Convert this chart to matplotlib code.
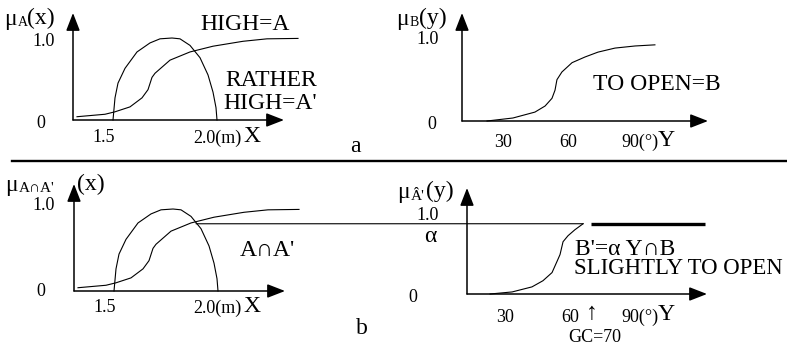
import matplotlib
matplotlib.use("Agg")
import matplotlib.pyplot as plt
import matplotlib.transforms as mtransforms
from matplotlib.lines import Line2D
from matplotlib.patches import ConnectionPatch

# Output size in pixels
W_PX = 787
H_PX = 347
DPI = 100

plt.rcParams["font.family"] = ["Liberation Serif", "DejaVu Serif"]

BIG = 17
SMALL = 13
SUB = 10

# --- data ---
# body height (m) and membership of HIGH=A
high_x = [1.365, 1.505, 1.555, 1.63, 1.69, 1.72, 1.74, 1.755, 1.83, 1.93, 2.045, 2.195, 2.315, 2.47]
high_mu = [0.04, 0.07, 0.10, 0.16, 0.27, 0.37, 0.52, 0.57, 0.73, 0.83, 0.90, 0.96, 0.99, 0.995]

# RATHER HIGH=A'
rather_x = [1.545, 1.555, 1.57, 1.605, 1.665, 1.73, 1.78, 1.84, 1.88, 1.93, 1.98, 2.02, 2.045, 2.06, 2.065]
rather_mu = [0.0, 0.27, 0.45, 0.63, 0.83, 0.94, 0.99, 1.0, 0.99, 0.91, 0.76, 0.55, 0.34, 0.15, 0.0]

# angle (deg) and membership of TO OPEN=B
open_y = [22.6, 34.6, 44.8, 49.5, 52.7, 54.1, 55.0, 57.3, 62.0, 68.0, 74.0, 81.9, 91.2, 100.4]
open_mu = [0.0, 0.037, 0.11, 0.185, 0.28, 0.38, 0.51, 0.605, 0.72, 0.79, 0.85, 0.90, 0.926, 0.94]

# SLIGHTLY TO OPEN = B' (clipped at alpha)
slight_y = [23.1, 33.3, 42.5, 47.6, 51.8, 54.1, 55.5, 56.9, 59.2, 62.4, 66.2]
slight_mu = [0.0, 0.024, 0.083, 0.155, 0.25, 0.38, 0.46, 0.61, 0.68, 0.75, 0.82]

alpha = 0.82
alpha_x = 1.955
gc = 70
gc_end = 122.7

x_ticks = [1.5]
y_ticks = [30, 60]


fig = plt.figure(figsize=(W_PX / DPI, H_PX / DPI), dpi=DPI)


def px_axes(left, right, bottom, top, xlim, ylim):
    """Axes placed by pixel box (y measured from the top)."""
    ax = fig.add_axes([left / W_PX, 1 - bottom / H_PX,
                       (right - left) / W_PX, (bottom - top) / H_PX])
    ax.set_xlim(*xlim)
    ax.set_ylim(*ylim)
    ax.axis("off")
    # arrowed axes
    style = "-|>,head_length=0.9,head_width=0.35"
    for tip in [(1, 0), (0, 1)]:
        ax.annotate("", xy=tip, xytext=(0, 0), xycoords="axes fraction",
                    arrowprops=dict(arrowstyle=style, mutation_scale=12, lw=1.1,
                                    color="black", shrinkA=0, shrinkB=0),
                    annotation_clip=False)
    return ax


def ftext(x, y, s, size, ha="left", va="center"):
    fig.text(x / W_PX, 1 - y / H_PX, s, fontsize=size, ha=ha, va=va)


def tick_labels(ax, values, y, size=SMALL):
    trans = mtransforms.blended_transform_factory(ax.transData, fig.transFigure)
    for v in values:
        ax.text(v, 1 - y / H_PX, str(v), transform=trans, fontsize=size,
                ha="center", va="center")


curve = dict(color="black", lw=0.8, clip_on=False)

# --- a: left ---
ax_al = px_axes(73, 284, 120, 13, (1.345, 2.40), (0, 1.305))
ax_al.plot(high_x, high_mu, **curve)
ax_al.plot(rather_x, rather_mu, **curve)
tick_labels(ax_al, x_ticks, 138)

# --- a: right ---
ax_ar = px_axes(462, 708, 121, 13, (11, 125), (0, 1.333))
ax_ar.plot(open_y, open_mu, **curve)
tick_labels(ax_ar, y_ticks, 142)

# --- b: left ---
ax_bl = px_axes(74, 285, 291, 184, (1.345, 2.40), (0, 1.305))
ax_bl.plot(high_x, high_mu, **curve)
ax_bl.plot(rather_x, rather_mu, **curve)
tick_labels(ax_bl, x_ticks, 308)

# --- b: right ---
ax_br = px_axes(467, 707, 294, 188, (12.4, 123.6), (0, 1.237))
ax_br.plot(slight_y, slight_mu, **curve)
ax_br.plot([gc, gc_end], [alpha, alpha], color="black", lw=2.4,
           solid_capstyle="butt", clip_on=False)
tick_labels(ax_br, y_ticks, 317)

# alpha level carried across from the intersection
con = ConnectionPatch(xyA=(alpha_x, alpha), coordsA=ax_bl.transData,
                      xyB=(slight_y[-1], alpha), coordsB=ax_br.transData,
                      color="black", lw=0.8)
fig.add_artist(con)

# separator
fig.add_artist(Line2D([12 / W_PX, 1.0], [1 - 161 / H_PX] * 2,
                      color="black", lw=1.7))

# --- texts: panel a ---
ftext(4, 19, "\u03bc", BIG)
ftext(18, 23, "A", SUB)
ftext(27, 18, "(x)", BIG)
ftext(44, 41, "1.0", SMALL, ha="center")
ftext(41, 123, "0", SMALL, ha="center")
ftext(193, 138, "2.0(m)", SMALL)
ftext(243, 136, "X", BIG)
ftext(200, 24, "HIGH=A", BIG)
ftext(225, 81, "RATHER", BIG)
ftext(223, 104, "HIGH=A'", BIG)
ftext(355, 146, "a", BIG, ha="center")

ftext(396, 19, "\u03bc", BIG)
ftext(410, 23, "B", SUB)
ftext(419, 18, "(y)", BIG)
ftext(428, 40, "1.0", SMALL, ha="center")
ftext(432, 124, "0", SMALL, ha="center")
ftext(621, 142, "90(\u00b0)", SMALL)
ftext(658, 140, "Y", BIG)
ftext(593, 85, "TO OPEN=B", BIG)

# --- texts: panel b ---
ftext(5, 185, "\u03bc", BIG)
ftext(19, 189, "A\u2229A'", 11)
ftext(77, 184, "(x)", BIG)
ftext(44, 206, "1.0", SMALL, ha="center")
ftext(41, 292, "0", SMALL, ha="center")
ftext(193, 308, "2.0(m)", SMALL)
ftext(243, 306, "X", BIG)
ftext(240, 250, "A\u2229A'", BIG)
ftext(362, 328, "b", BIG, ha="center")

ftext(397, 192, "\u03bc", BIG)
ftext(411, 196, "\u00c2'", 11)
ftext(426, 191, "(y)", BIG)
ftext(428, 215, "1.0", SMALL, ha="center")
ftext(430, 236, "\u03b1", BIG, ha="center")
ftext(413, 297, "0", SMALL, ha="center")
ftext(592, 314, "\u2191", BIG, ha="center")
ftext(621, 317, "90(\u00b0)", SMALL)
ftext(658, 315, "Y", BIG)
ftext(595, 337, "GC=70", SMALL, ha="center")
ftext(575, 249, "B'=\u03b1 Y\u2229B", BIG)
ftext(574, 269, "SLIGHTLY TO OPEN", 16.4)

fig.savefig("out.png", dpi=DPI)
